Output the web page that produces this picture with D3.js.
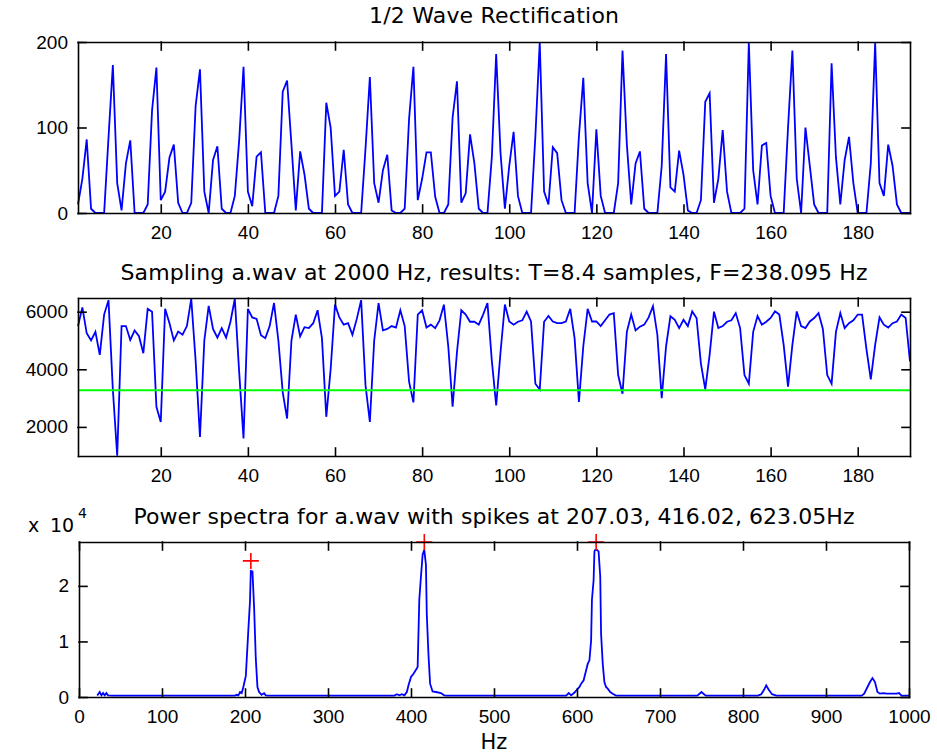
<!DOCTYPE html>
<html>
<head>
<meta charset="utf-8">
<script src="https://cdn.jsdelivr.net/npm/d3@7"></script>
<style>
  body { margin: 0; background: #fff; }
  svg { display: block; font-family: "DejaVu Sans", sans-serif; }
  .axis text { font-size: 19px; fill: #000; }
  .axis path, .axis line { stroke: #000; stroke-width: 1.6; stroke-linecap: square; }
  .label { font-size: 22px; fill: #000; }
</style>
</head>
<body>
<div id="chart"></div>
<script>
// Half wave rectified signal, samples 1..192
const rectified = [
  10, 40, 86, 5, 0, 0, 0, 88, 173, 35,
  3, 58, 85, 0, 0, 0, 10, 120, 170, 15,
  25, 65, 80, 12, 0, 0, 12, 125, 168, 25,
  0, 62, 78, 5, 0, 0, 20, 85, 171, 25,
  8, 66, 71, 0, 0, 0, 20, 142, 155, 80,
  3, 72, 45, 5, 0, 0, 0, 129, 100, 20,
  25, 74, 10, 0, 0, 0, 75, 159, 35, 12,
  50, 68, 3, 0, 0, 5, 110, 171, 15, 40,
  71, 71, 19, 0, 0, 10, 112, 154, 12, 23,
  92, 58, 5, 0, 0, 65, 186, 70, 5, 55,
  95, 20, 0, 0, 0, 90, 200, 25, 10, 77,
  70, 15, 0, 0, 0, 90, 158, 35, 0, 98,
  20, 0, 0, 0, 35, 190, 80, 10, 58, 72,
  5, 0, 0, 0, 55, 186, 30, 25, 73, 45,
  3, 0, 0, 15, 130, 140, 12, 40, 97, 25,
  0, 0, 0, 5, 199, 50, 10, 79, 82, 20,
  0, 0, 0, 100, 190, 40, 0, 100, 55, 10,
  0, 0, 0, 175, 65, 10, 62, 89, 35, 0,
  0, 0, 58, 199, 35, 20, 80, 55, 10, 0,
  0, 0
];

// a.wav sampled at 2000 Hz, samples 1..192
const sampled = [
  5500, 6150, 5250, 5000, 5300, 4500, 5900, 6400, 3300, 1000,
  5500, 5500, 5020, 5350, 5150, 4560, 6100, 6000, 2700, 2170,
  6100, 5600, 5000, 5310, 5200, 5500, 6450, 4300, 1650, 5000,
  6200, 5400, 5100, 5430, 5100, 5650, 6450, 3900, 1600, 6100,
  5800, 5750, 5180, 5080, 5500, 6300, 5000, 3200, 2290, 5000,
  5900, 5140, 5460, 5430, 5600, 6050, 5080, 2350, 4000, 6245,
  5800, 5550, 5600, 5200, 5750, 6400, 3450, 2170, 5000, 6300,
  5350, 5400, 5500, 5450, 6050, 5500, 3570, 2850, 5900, 6050,
  5450, 5550, 5430, 5700, 6245, 4800, 2700, 4600, 6050, 5900,
  5650, 5650, 5550, 5900, 6300, 4300, 2750, 4600, 6250, 5660,
  5550, 5650, 5700, 6000, 5660, 3500, 3300, 5650, 5850, 5660,
  5600, 5600, 5660, 6100, 5080, 2870, 4800, 6100, 5660, 5660,
  5500, 5700, 5900, 5950, 3800, 3150, 5300, 5900, 5350, 5480,
  5550, 5800, 6190, 5200, 3000, 4800, 5840, 5720, 5430, 5720,
  5500, 6010, 5780, 4200, 3300, 4500, 6000, 5430, 5500, 5650,
  5700, 5950, 5430, 3800, 3500, 5300, 5850, 5550, 5650, 5780,
  6010, 5900, 4850, 3400, 4850, 6010, 5500, 5430, 5660, 5780,
  5950, 5400, 3800, 3500, 5300, 5950, 5430, 5600, 5700, 5900,
  5900, 4700, 3650, 4850, 5800, 5550, 5450, 5600, 5660, 5900,
  5780, 4270
];
const threshold = 3270;

// power spectrum, points
const specHz = [
  22, 25, 27, 29, 31, 33, 35, 40,
  188, 190, 192, 194, 196, 198, 201, 204, 206, 207, 209, 211, 213, 215, 217, 220, 223, 225, 228,
  380, 383, 386, 389, 392, 395, 397, 400, 403, 406, 408, 410, 412, 414, 416, 418, 419, 421, 423, 426, 430, 436, 440, 443,
  587, 590, 593, 597, 601, 603, 605, 608, 611, 613, 615, 617, 618, 620, 621, 622, 624, 626, 628, 629, 631, 633, 635, 637, 640, 643, 647,
  745, 750, 755,
  818, 822, 825, 828, 831, 835, 840,
  943, 946, 950, 953, 956, 959, 962, 965, 969, 973, 979, 985, 988, 991, 1000
];
const specPower = [
  250, 900, 300, 700, 300, 700, 300, 250,
  250, 400, 300, 900, 700, 1800, 3800, 12000, 17200, 22700, 22600, 16000, 6900, 1800, 900, 400, 700, 300, 250,
  250, 500, 300, 500, 300, 900, 2100, 3600, 4200, 4900, 5400, 17500, 21700, 25600, 26500, 23800, 15000, 7800, 2400, 1000, 900, 700, 300, 250,
  250, 700, 300, 800, 1500, 1800, 2400, 3000, 4800, 6000, 6600, 10200, 17500, 21000, 26200, 26500, 26500, 26200, 21700, 11400, 6000, 2700, 1800, 1500, 900, 600, 250,
  250, 900, 250,
  250, 500, 1200, 2100, 1300, 500, 250,
  250, 600, 1800, 2700, 3400, 2700, 900, 600, 700, 600, 600, 600, 700, 250, 250
];
const spikeHz = [207.03, 416.02, 623.05];
const spikePower = [24500, 27900, 27900];

// ticks
const sampleTicks = [20, 40, 60, 80, 100, 120, 140, 160, 180];
const rectTicks = [0, 100, 200];
const sampledTicks = [2000, 4000, 6000];
const hzTicks = [0, 100, 200, 300, 400, 500, 600, 700, 800, 900, 1000];
const powerTicks = [0, 10000, 20000];

const titles = [
  "1/2 Wave Rectification",
  "Sampling a.wav at 2000 Hz, results: T=8.4 samples, F=238.095 Hz",
  "Power spectra for a.wav with spikes at 207.03, 416.02, 623.05Hz"
];

const width = 937, height = 756;
const left = 78, right = 910;

const svg = d3.select("#chart")
  .append("svg")
  .attr("width", width)
  .attr("height", height);

svg.append("rect").attr("width", width).attr("height", height).attr("fill", "#fff");

// box with inward ticks on all four sides
function drawFrame(x, y, xTicks, yTicks, yFormat) {
  const [y0, y1] = y.range();
  const [x0, x1] = x.range();
  svg.append("g").attr("class", "axis")
    .attr("transform", `translate(0,${y0})`)
    .call(d3.axisBottom(x).tickValues(xTicks).tickSizeInner(-8).tickSizeOuter(0).tickPadding(13).tickFormat(d3.format("d")));
  svg.append("g").attr("class", "axis")
    .attr("transform", `translate(0,${y1})`)
    .call(d3.axisTop(x).tickValues(xTicks).tickSizeInner(-8).tickSizeOuter(0).tickFormat(""));
  svg.append("g").attr("class", "axis")
    .attr("transform", `translate(${x0},0)`)
    .call(d3.axisLeft(y).tickValues(yTicks).tickSizeInner(-8).tickSizeOuter(0).tickPadding(10).tickFormat(yFormat));
  svg.append("g").attr("class", "axis")
    .attr("transform", `translate(${x1},0)`)
    .call(d3.axisRight(y).tickValues(yTicks).tickSizeInner(-8).tickSizeOuter(0).tickFormat(""));
}

const sampleIdx = d3.range(1, rectified.length + 1);

// Panel 1
const x1 = d3.scaleLinear().domain([1, 192]).range([left, right]);
const y1 = d3.scaleLinear().domain([0, 200]).range([213, 42]);

svg.append("path")
  .attr("d", d3.line().x((d, i) => x1(sampleIdx[i])).y(d => y1(d))(rectified))
  .attr("fill", "none")
  .attr("stroke", "#0000ff")
  .attr("stroke-width", 1.8);

drawFrame(x1, y1, sampleTicks, rectTicks, d3.format("d"));

// Panel 2
const x2 = d3.scaleLinear().domain([1, 192]).range([left, right]);
const y2 = d3.scaleLinear().domain([990, 6475]).range([456, 298]);

svg.append("path")
  .attr("d", d3.line().x((d, i) => x2(sampleIdx[i])).y(d => y2(d))(sampled))
  .attr("fill", "none")
  .attr("stroke", "#0000ff")
  .attr("stroke-width", 1.8);

svg.append("line")
  .attr("x1", x2(1)).attr("x2", x2(192))
  .attr("y1", y2(threshold)).attr("y2", y2(threshold))
  .attr("stroke", "#00ff00")
  .attr("stroke-width", 2);

drawFrame(x2, y2, sampleTicks, sampledTicks, d3.format("d"));

// Panel 3
const x3 = d3.scaleLinear().domain([0, 1000]).range([79, 909]);
const y3 = d3.scaleLinear().domain([0, 27900]).range([697, 542]);

svg.append("path")
  .attr("d", d3.line().x((d, i) => x3(specHz[i])).y(d => y3(d))(specPower))
  .attr("fill", "none")
  .attr("stroke", "#0000ff")
  .attr("stroke-width", 1.8);

svg.selectAll(".spike")
  .data(spikeHz)
  .enter().append("path")
  .attr("class", "spike")
  .attr("d", (d, i) => {
    const cx = x3(d), cy = y3(spikePower[i]);
    return `M${cx - 8},${cy}H${cx + 8}M${cx},${cy - 8}V${cy + 8}`;
  })
  .attr("fill", "none")
  .attr("stroke", "#ff0000")
  .attr("stroke-width", 1.6);

drawFrame(x3, y3, hzTicks, powerTicks, d => d / 10000);

// titles and labels
const titleY = [23, 280, 523.5];
const titleLen = [250, 747, 721];
titles.forEach((t, i) => {
  svg.append("text")
    .attr("class", "label")
    .attr("x", 494)
    .attr("y", titleY[i])
    .attr("text-anchor", "middle")
    .attr("textLength", titleLen[i])
    .attr("lengthAdjust", "spacing")
    .text(t);
});

svg.append("text")
  .attr("class", "label")
  .attr("x", 494)
  .attr("y", 749)
  .attr("text-anchor", "middle")
  .style("font-size", "21px")
  .text("Hz");

const mult = svg.append("text").attr("y", 531.5).style("font-size", "19px");
mult.append("tspan").attr("x", 28).text("x");
mult.append("tspan").attr("x", 50).text("10");
mult.append("tspan").attr("x", 78).attr("y", 518).style("font-size", "14px").text("4");
</script>
</body>
</html>
